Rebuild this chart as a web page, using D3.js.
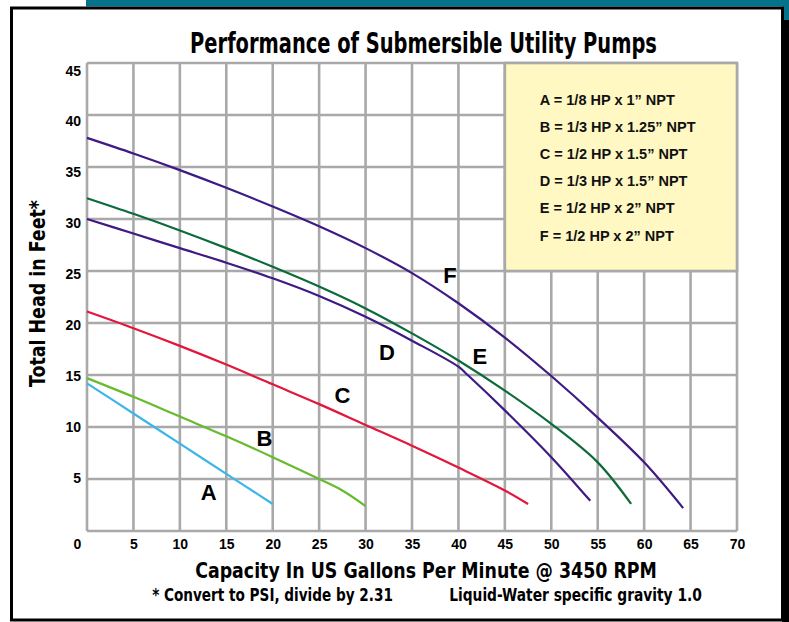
<!DOCTYPE html>
<html>
<head>
<meta charset="utf-8">
<script src="https://cdn.jsdelivr.net/npm/d3@7"></script>
<style>
  body { margin: 0; background: #fff; }
  svg { display: block; }
</style>
</head>
<body>
<div class="pump_chart"></div>
<script>
// pump curves: [gpm, feet of head]
const curveA = [[0, 14.2], [5, 11.3], [10, 8.4], [15, 5.5], [20, 2.6]];
const curveB = [[0, 14.7], [5, 12.9], [10, 11.0], [15, 9.1], [20, 7.1], [25, 5.0], [27.5, 3.9], [30, 2.4]];
const curveC = [[0, 21.1], [5, 19.5], [10, 17.8], [15, 16.0], [20, 14.1], [25, 12.2], [30, 10.2], [35, 8.2], [40, 6.1], [45, 3.9], [47.5, 2.6]];
const curveD = [[0, 30.0], [5, 28.6], [10, 27.2], [15, 25.8], [20, 24.3], [25, 22.6], [30, 20.6], [35, 18.3], [40, 15.8], [41, 15.0], [45, 11.6], [50, 7.1], [54.2, 2.9]];
const curveE = [[0, 32.0], [5, 30.5], [10, 28.9], [15, 27.2], [20, 25.4], [25, 23.5], [30, 21.4], [35, 19.0], [40, 16.4], [45, 13.5], [50, 10.3], [55, 6.6], [58.6, 2.6]];
const curveF = [[0, 37.8], [5, 36.3], [10, 34.7], [15, 33.0], [20, 31.2], [25, 29.3], [30, 27.2], [35, 24.8], [40, 21.9], [45, 18.6], [50, 14.9], [55, 10.9], [60, 6.6], [64.2, 2.2]];

const curveNames = ['A', 'B', 'C', 'D', 'E', 'F'];
const curveColors = ['#3cb6ea', '#66bb2e', '#e3163c', '#3d1a84', '#0c6b3a', '#3d1a84'];
// where the letters sit on the chart, in gpm / feet
const labelSpots = [[13.1, 3.7], [19.1, 8.9], [27.5, 13.1], [32.3, 17.2], [42.3, 16.8], [39.1, 24.6]];

const legendLines = [
    'A = 1/8 HP x 1\u201D NPT',
    'B = 1/3 HP x 1.25\u201D NPT',
    'C = 1/2 HP x 1.5\u201D NPT',
    'D = 1/3 HP x 1.5\u201D NPT',
    'E = 1/2 HP x 2\u201D NPT',
    'F = 1/2 HP x 2\u201D NPT'
];
const legendArea = [[45, 70], [25, 45]]; // gpm range, head range covered by the box

const xTicks = [0, 5, 10, 15, 20, 25, 30, 35, 40, 45, 50, 55, 60, 65, 70];
const yTicks = [5, 10, 15, 20, 25, 30, 35, 40, 45];
const gridX = xTicks;
const gridY = [0, 5, 10, 15, 20, 25, 30, 35, 40, 45];

const w = 789, h = 622;
const narrow = '"Liberation Sans Narrow", "Arial Narrow", "DejaVu Sans Condensed", sans-serif';
const wide = '"Liberation Sans", Arial, Helvetica, sans-serif';
const grey = '#a9a9a9';

const svg = d3.select('.pump_chart')
    .append('svg')
    .attr('width', w)
    .attr('height', h)

// frame + teal trim
svg.append('rect').attr('x', 86).attr('y', 0).attr('width', w - 86).attr('height', 6.5).attr('fill', '#03728a')
svg.append('rect').attr('x', 783).attr('y', 0).attr('width', 6).attr('height', 20).attr('fill', '#03728a')
svg.append('rect').attr('x', 782).attr('y', 20).attr('width', 7).attr('height', h - 20).attr('fill', '#000')
svg.append('rect')
    .attr('x', 11.5).attr('y', 8)
    .attr('width', 771).attr('height', 612)
    .attr('fill', 'none')
    .attr('stroke', '#000')
    .attr('stroke-width', 3)

const x = d3.scaleLinear().domain([0, 70]).range([87, 737]);
const y = d3.scaleLinear().domain([0, 45]).range([531, 63]);
// the printed numbers on the left drift a little off the grid lines
const yLabel = d3.scaleLinear().domain([5, 45]).range([477, 70]);

const g = svg.append('g')

// grid
g.selectAll('.vgrid')
    .data(gridX).enter().append('line')
    .attr('x1', d => x(d)).attr('x2', d => x(d))
    .attr('y1', y(0)).attr('y2', y(45))
    .attr('stroke', grey).attr('stroke-width', 2.6)
g.selectAll('.hgrid')
    .data(gridY).enter().append('line')
    .attr('x1', x(0)).attr('x2', x(70))
    .attr('y1', d => y(d)).attr('y2', d => y(d))
    .attr('stroke', grey).attr('stroke-width', 2.6)

// legend box sits over the top right of the grid
const lx = x(legendArea[0][0]), lx2 = x(legendArea[0][1]);
const ly = y(legendArea[1][1]), ly2 = y(legendArea[1][0]);
g.append('rect')
    .attr('x', lx).attr('y', ly)
    .attr('width', lx2 - lx).attr('height', ly2 - ly)
    .attr('fill', '#fff8c2')
    .attr('stroke', grey).attr('stroke-width', 2.6)
g.selectAll('.legendText')
    .data(legendLines).enter().append('text')
    .attr('x', lx + 35)
    .attr('y', (d, i) => ly + 42 + i * 27.1)
    .attr('font-family', wide)
    .attr('font-weight', 'bold')
    .attr('font-size', '14.5px')
    .attr('fill', '#111')
    .text(d => d)

// curves
const line = d3.line()
    .x(d => x(d[0]))
    .y(d => y(d[1]))
    .curve(d3.curveCatmullRom.alpha(0.5))

const allCurves = [curveA, curveB, curveC, curveD, curveE, curveF];
g.selectAll('.curve')
    .data(allCurves).enter().append('path')
    .attr('d', d => line(d))
    .attr('fill', 'none')
    .attr('stroke', (d, i) => curveColors[i])
    .attr('stroke-width', 2.2)

g.selectAll('.curveName')
    .data(curveNames).enter().append('text')
    .attr('x', (d, i) => x(labelSpots[i][0]))
    .attr('y', (d, i) => y(labelSpots[i][1]))
    .attr('dy', '0.36em')
    .attr('text-anchor', 'middle')
    .attr('font-family', wide)
    .attr('font-weight', 'bold')
    .attr('font-size', '22px')
    .attr('fill', '#000')
    .text(d => d)

// axes (numbers only, no lines)
const xAxis = svg.append('g')
    .attr('transform', 'translate(0,549)')
    .call(d3.axisBottom(x).tickValues(xTicks).tickSize(0).tickFormat(d3.format('d')))
xAxis.select('.domain').remove()
xAxis.selectAll('text')
    .attr('y', 0).attr('dy', 0)
    .attr('x', d => d === 0 ? -10 : 0)
xAxis.attr('font-family', wide).attr('font-weight', 'bold').attr('font-size', 14)

const yAxis = svg.append('g')
    .attr('transform', 'translate(81,0)')
    .call(d3.axisLeft(yLabel).tickValues(yTicks).tickSize(0).tickFormat(d3.format('d')))
yAxis.select('.domain').remove()
yAxis.selectAll('text').attr('x', 0).attr('dy', '0.36em')
yAxis.attr('font-family', wide).attr('font-weight', 'bold').attr('font-size', 14)

// condensed titles: shrink the font to the wanted width, then stretch it back up
// so the letters keep the tall look of the printed chart
function condensed(txt, cx, cy, size, len, rot) {
    const t = svg.append('text')
        .attr('text-anchor', 'middle')
        .attr('font-family', narrow).attr('font-weight', 'bold')
        .attr('font-size', size + 'px')
        .text(txt)
    const k = len / t.node().getComputedTextLength();
    t.attr('font-size', (size * k) + 'px')
    t.attr('transform', 'translate(' + cx + ',' + cy + ')' + (rot ? ' rotate(' + rot + ')' : '') + ' scale(1,' + (1 / k) + ')')
    return t
}

condensed('Performance of Submersible Utility Pumps', 423.5, 53, 29, 467)
condensed('Capacity In US Gallons Per Minute @ 3450 RPM', 426, 578, 22, 462)
condensed('Total Head in Feet*', 45, 293.5, 22, 187, -90)
condensed('* Convert to PSI, divide by 2.31', 152 + 241 / 2, 601, 17, 241)
condensed('Liquid-Water specific gravity 1.0', 449 + 253 / 2, 601, 17, 253)
</script>
</body>
</html>
